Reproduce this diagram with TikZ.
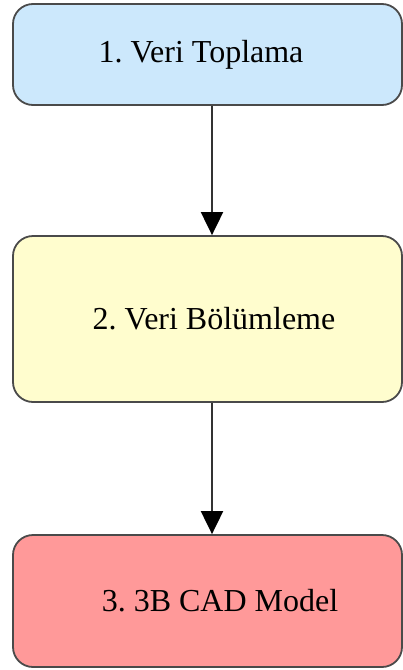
\documentclass[tikz,border=0pt]{standalone}
\usepackage{fontspec}
\setmainfont{Liberation Serif}
\usetikzlibrary{arrows.meta}
\definecolor{boxline}{HTML}{4A4A4A}
\definecolor{arrowline}{HTML}{333333}
\definecolor{fillblue}{HTML}{CCE8FC}
\definecolor{fillyellow}{HTML}{FFFDCE}
\definecolor{fillred}{HTML}{FF9999}
\frenchspacing
\begin{document}
\begin{tikzpicture}[x=1pt,y=-1pt,
  stepbox/.style={draw=boxline, line width=1.8pt, rounded corners=20pt,
    minimum width=389pt, inner sep=0pt},
  lbl/.style={font=\fontsize{32}{38}\selectfont, inner sep=0pt, text=black},
  flow/.style={draw=arrowline, line width=2pt,
    -{Triangle[width=22pt,length=23pt,fill=black,color=black]}}]
\useasboundingbox (0,0) rectangle (403,670);
% process steps
\node[stepbox, fill=fillblue,   minimum height=101pt] (s1) at (207.5,54.5) {};
\node[stepbox, fill=fillyellow, minimum height=166pt] (s2) at (207.5,319) {};
\node[stepbox, fill=fillred,    minimum height=132pt] (s3) at (207.5,601) {};
% step labels
\node[lbl] (t1) at ([xshift=-6.5pt]s1.center) {1. Veri Toplama};
\node[lbl] (t2) at ([xshift=6.5pt]s2.center) {2. Veri Bölümleme};
\node[lbl] (t3) at ([xshift=12.5pt]s3.center) {3. 3B CAD Model};
% connectors
\draw[flow] ([xshift=4.5pt]s1.south) -- ([xshift=4.5pt]s2.north);
\draw[flow] ([xshift=4.5pt]s2.south) -- ([xshift=4.5pt]s3.north);
\end{tikzpicture}
\end{document}
